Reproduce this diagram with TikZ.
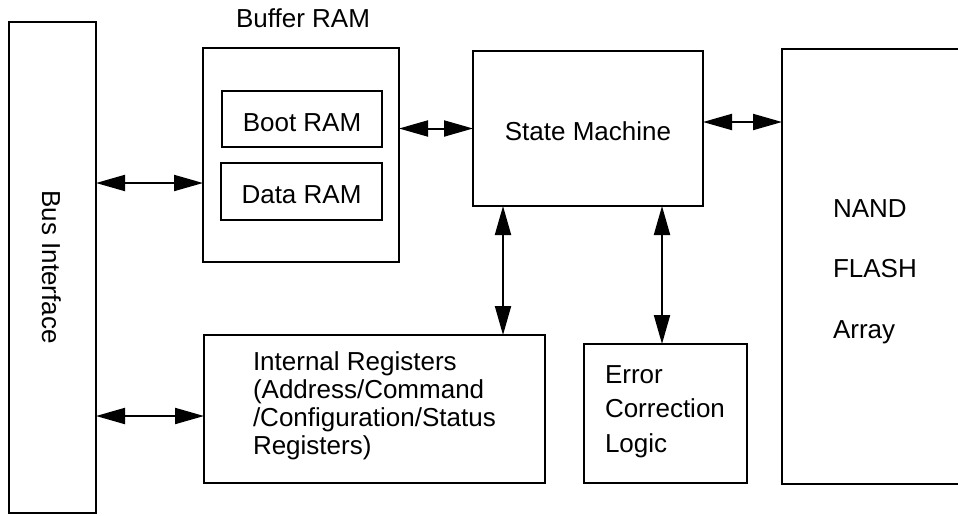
\documentclass[tikz,border=0pt]{standalone}
\usepackage{fontspec}
\setmainfont{Liberation Sans}
\usetikzlibrary{arrows.meta,calc}
\begin{document}
\begin{tikzpicture}[x=1pt,y=-1pt,
  box/.style={draw,line width=2pt,inner sep=0pt,outer sep=0pt,anchor=north west},
  lbl/.style={inner sep=0pt,outer sep=0pt,font=\fontsize{26}{30}\selectfont},
  dbl/.style={line width=2pt,{Triangle[length=29pt,width=16pt]}-{Triangle[length=29pt,width=16pt]}}]
\useasboundingbox[fill=white] (0,0) rectangle (958,515);
% boxes
\node[box,minimum width=87pt,minimum height=491pt] (bus) at (9,22) {};
\node[box,minimum width=196pt,minimum height=214pt] (buf) at (203,48) {};
\node[box,minimum width=160pt,minimum height=56pt] (boot) at (222,91) {};
\node[box,minimum width=161pt,minimum height=57pt] (data) at (221,163) {};
\node[box,minimum width=230pt,minimum height=155pt] (sm) at (473,51) {};
\node[box,minimum width=341pt,minimum height=148pt] (ir) at (204,335) {};
\node[box,minimum width=163pt,minimum height=139pt] (ecc) at (584,344) {};
\node[inner sep=0pt,outer sep=0pt,anchor=north west,minimum width=176pt,minimum height=435pt] (nand) at (782,49) {};
\draw[line width=2pt] (nand.north east) -- (nand.north west) -- (nand.south west) -- (nand.south east);
% texts
\node[lbl,anchor=base] (tbuf) at (303,27) {Buffer RAM};
\node[lbl,anchor=base] (tboot) at (302,131) {Boot RAM};
\node[lbl,anchor=base] (tdata) at (301.5,203.5) {Data RAM};
\node[lbl,anchor=base] (tsm) at (588,140) {State Machine};
\node[lbl,anchor=base,rotate=-90] (tbus) at (42,267) {Bus Interface};
\node[lbl,anchor=base west] (tnand) at (833,217) {\vtop{\baselineskip=60.5pt\hbox{NAND}\hbox{FLASH}\hbox{Array}}};
\node[lbl,anchor=base west] (tir) at (253,370) {\vtop{\baselineskip=28.3pt\hbox{Internal Registers}\hbox{(Address/Command}\hbox{/Configuration/Status}\hbox{Registers)}}};
\node[lbl,anchor=base west] (tecc) at (605,383) {\vtop{\baselineskip=34.5pt\hbox{Error}\hbox{Correction}\hbox{Logic}}};
% connectors
\coordinate (a1) at ($(buf.west)+(0,28)$);
\draw[dbl] (bus.east |- a1) -- (a1);
\coordinate (a2) at ($(ir.west)+(0,7)$);
\draw[dbl] (bus.east |- a2) -- (a2);
\draw[dbl] (buf.east |- sm.west) -- (sm.west);
\coordinate (a3) at ($(sm.east)+(0,-6.5)$);
\draw[dbl] (a3) -- (nand.west |- a3);
\coordinate (a4) at ($(sm.south west)+(30,0)$);
\draw[dbl] (a4) -- (a4 |- ir.north);
\coordinate (a5) at ($(ecc.north)+(-3.5,0)$);
\draw[dbl] (sm.south -| a5) -- (a5);
\end{tikzpicture}
\end{document}
